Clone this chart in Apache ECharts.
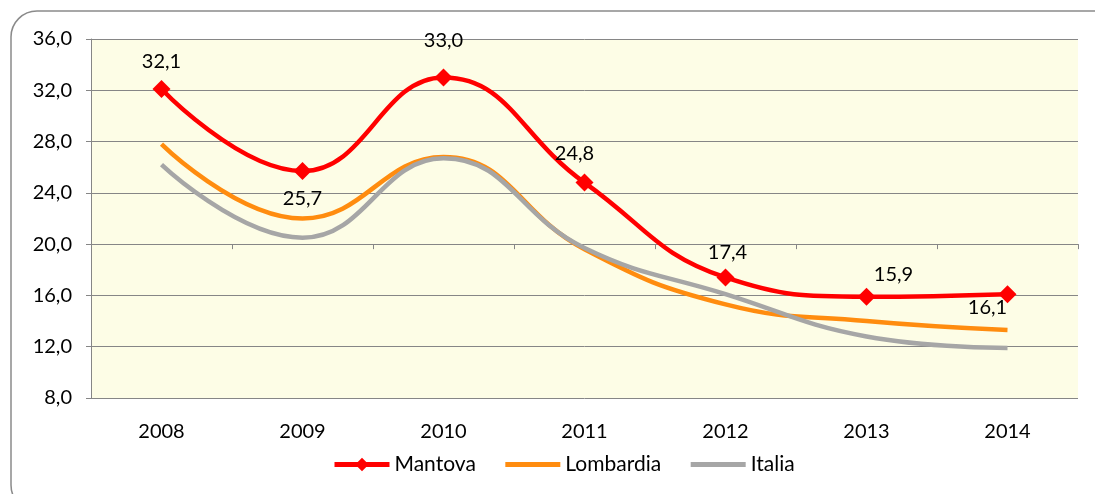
<!DOCTYPE html>
<html>
<head>
<meta charset="utf-8">
<script src="https://cdn.jsdelivr.net/npm/echarts@6/dist/echarts.min.js"></script>
<style>
  html, body { margin: 0; padding: 0; background: #fff; }
  #main { width: 1095px; height: 494px; }
</style>
</head>
<body>
<div id="main"></div>
<script>
// dati
const years = ['2008', '2009', '2010', '2011', '2012', '2013', '2014']
const mantova = [32.1, 25.7, 33.0, 24.8, 17.4, 15.9, 16.1]
const lombardia = [27.8, 22.0, 26.8, 19.6, 15.3, 14.0, 13.3]
const italia = [26.2, 20.5, 26.7, 19.7, 16.1, 12.8, 11.9]
const yTicks = [8, 12, 16, 20, 24, 28, 32, 36]

const FONT = 'Lato'
const fmt = v => Number(v).toFixed(1).replace('.', ',')

// posizione etichette Mantova (come nel foglio originale)
const labelPos = [
  { position: 'top', distance: 8, offset: [0, 0] },
  { position: 'bottom', distance: 8, offset: [0, 0] },
  { position: 'top', distance: 18, offset: [0, 0] },
  { position: 'top', distance: 10, offset: [-10, 0] },
  { position: 'top', distance: 6, offset: [2, 0] },
  { position: 'top', distance: 3, offset: [27, 0] },
  { position: 'bottom', distance: 0, offset: [-20, -6] }
]

const chart = echarts.init(document.getElementById('main'))

const option = {
  backgroundColor: '#fff',
  textStyle: { fontFamily: FONT },
  graphic: [{
    type: 'rect',
    shape: { x: 11, y: 11, width: 1110, height: 500, r: 26 },
    style: { fill: 'none', stroke: '#8a8a8a', lineWidth: 1.5 },
    silent: true,
    z: -1
  }],
  legend: {
    top: 449,
    left: 327,
    itemWidth: 55,
    itemHeight: 17,
    itemGap: 27,
    lineStyle: { width: 5 },
    textStyle: { fontFamily: FONT, fontSize: 21, color: '#000' },
    data: [
      { name: 'Mantova' },
      { name: 'Lombardia', itemStyle: { opacity: 0 } },
      { name: 'Italia', itemStyle: { opacity: 0 } }
    ]
  },
  grid: {
    left: 91, right: 17, top: 39, bottom: 96,
    show: true, backgroundColor: '#fdfde6', borderWidth: 0
  },
  xAxis: [{
    type: 'category',
    data: years,
    boundaryGap: true,
    axisLine: { show: false },
    axisTick: { show: false },
    axisLabel: { fontFamily: FONT, fontSize: 20, color: '#000', margin: 24 }
  }, {
    // asse orizzontale che incrocia a 20,0
    type: 'category',
    data: years,
    position: 'bottom',
    offset: -(20 - 8) / (36 - 8) * (494 - 39 - 96),
    boundaryGap: true,
    axisLine: { show: true, lineStyle: { color: '#868686', width: 1 } },
    axisTick: { show: true, length: 5, interval: 0, lineStyle: { color: '#868686' } },
    axisLabel: { show: false }
  }],
  yAxis: {
    type: 'value',
    min: yTicks[0],
    max: yTicks[yTicks.length - 1],
    interval: 4,
    axisLine: { show: true, lineStyle: { color: '#868686', width: 1 } },
    axisTick: { show: true, length: 5, lineStyle: { color: '#868686' } },
    splitLine: { show: true, lineStyle: { color: '#868686', width: 1 } },
    axisLabel: {
      fontFamily: FONT, fontSize: 20, color: '#000', margin: 19,
      formatter: v => fmt(v)
    }
  },
  series: [
    {
      name: 'Italia',
      type: 'line',
      smooth: 0.45,
      symbol: 'none',
      z: 2,
      lineStyle: { color: '#a6a6a6', width: 4.5 },
      itemStyle: { color: '#a6a6a6' },
      data: italia
    },
    {
      name: 'Lombardia',
      type: 'line',
      smooth: 0.45,
      symbol: 'none',
      z: 1,
      lineStyle: { color: '#ff8c0f', width: 4.5 },
      itemStyle: { color: '#ff8c0f' },
      data: lombardia
    },
    {
      name: 'Mantova',
      type: 'line',
      smooth: 0.45,
      symbol: 'diamond',
      symbolSize: 18,
      z: 3,
      lineStyle: { color: '#ff0000', width: 4.5 },
      itemStyle: { color: '#ff0000' },
      data: mantova.map((v, i) => ({
        value: v,
        label: {
          show: true,
          position: labelPos[i].position,
          distance: labelPos[i].distance,
          offset: labelPos[i].offset,
          formatter: p => fmt(p.value),
          fontFamily: FONT, fontSize: 20, color: '#000'
        }
      }))
    }
  ]
}

chart.setOption(option)
</script>
</body>
</html>
